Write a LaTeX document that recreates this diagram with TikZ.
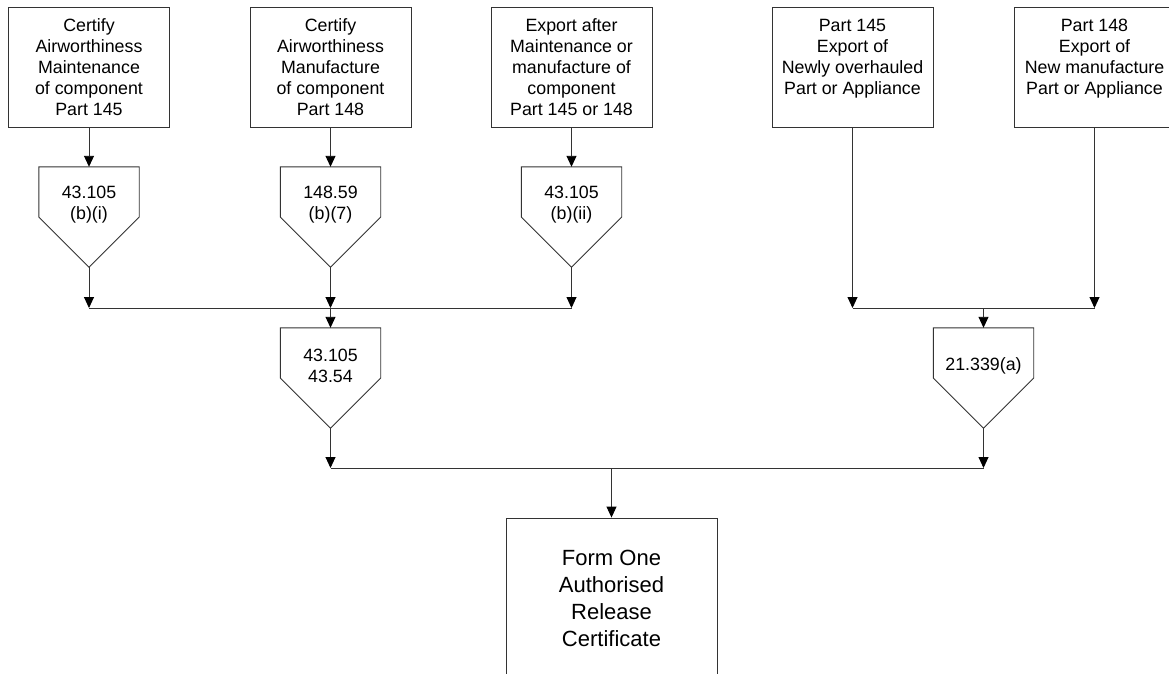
\documentclass[tikz,border=0pt]{standalone}
\usepackage{fontspec}
\setmainfont{Liberation Sans}
\usetikzlibrary{arrows.meta}
\newcommand\drawpent[1]{\draw[myline] (#1.north west) -- (#1.north east) -- (#1.east) -- (#1.south) -- (#1.west) -- cycle;}
\begin{document}
\begin{tikzpicture}[x=1pt,y=-1pt,
  myline/.style={draw=black!80, line width=0.9pt},
  mybox/.style={myline, rectangle, minimum width=161pt, minimum height=120pt, inner sep=0pt, align=center, font=\fontsize{17.8}{21}\selectfont},
  bigbox/.style={myline, rectangle, minimum width=211pt, minimum height=160pt, inner sep=0pt, align=center, font=\fontsize{22}{27}\selectfont},
  pentbox/.style={minimum width=100pt, minimum height=100pt, inner sep=0pt},
  ptext/.style={align=center, inner sep=0pt, font=\fontsize{17.8}{21}\selectfont},
  arr/.style={myline, -{Triangle[width=10pt,length=11pt,color=black]}},
]
\useasboundingbox (0,0) rectangle (1169,673);
\clip (0,0) rectangle (1169,673);

% top boxes
\node[mybox] (b1) at (89,67) {Certify\\Airworthiness\\Maintenance\\of component\\Part 145};
\node[mybox] (b2) at (330.5,67) {Certify\\Airworthiness\\Manufacture\\of component\\Part 148};
\node[mybox] (b3) at (571.5,67) {Export after\\Maintenance or\\manufacture of\\component\\Part 145 or 148};
\node[mybox] (b4) at (852.5,67) {Part 145\\Export of\\Newly overhauled\\Part or Appliance\\\mbox{}};
\node[mybox] (b5) at (1094.5,67) {Part 148\\Export of\\New manufacture\\Part or Appliance\\\mbox{}};

% pentagons
\node[pentbox] (p1) at (89,217) {}; \drawpent{p1}
\node[ptext] (t1) at (89,205) {43.105\\(b)(i)};
\node[pentbox] (p2) at (330.5,217) {}; \drawpent{p2}
\node[ptext] (t2) at (330.5,205) {148.59\\(b)(7)};
\node[pentbox] (p3) at (571.5,217) {}; \drawpent{p3}
\node[ptext] (t3) at (571.5,205) {43.105\\(b)(ii)};
\node[pentbox] (p4) at (330.5,378) {}; \drawpent{p4}
\node[ptext] (t4) at (330.5,366) {43.105\\43.54};
\node[pentbox] (p5) at (983.5,378) {}; \drawpent{p5}
\node[ptext] (t5) at (983.5,366) {21.339(a)};

% bottom box
\node[bigbox] (b6) at (611.5,598) {Form One\\Authorised\\Release\\Certificate};

% junctions
\coordinate (j1) at (89,308);
\coordinate (j2) at (330.5,308);
\coordinate (j3) at (571.5,308);
\coordinate (j4) at (852.5,308);
\coordinate (j5) at (1094.5,308);
\coordinate (j6) at (983.5,308);
\coordinate (k1) at (330.5,468);
\coordinate (k2) at (983.5,468);
\coordinate (k3) at (611.5,468);

% connectors
\draw[arr] (b1.south) -- (p1.north);
\draw[arr] (b2.south) -- (p2.north);
\draw[arr] (b3.south) -- (p3.north);
\draw[arr] (p1.south) -- (j1);
\draw[arr] (p2.south) -- (j2);
\draw[arr] (p3.south) -- (j3);
\draw[myline] (j1) -- (j3);
\draw[arr] (j2) -- (p4.north);

\draw[arr] (b4.south) -- (j4);
\draw[arr] (b5.south) -- (j5);
\draw[myline] (j4) -- (j5);
\draw[arr] (j6) -- (p5.north);

\draw[arr] (p4.south) -- (k1);
\draw[arr] (p5.south) -- (k2);
\draw[myline] (k1) -- (k2);
\draw[arr] (k3) -- (b6.north);
\end{tikzpicture}
\end{document}
